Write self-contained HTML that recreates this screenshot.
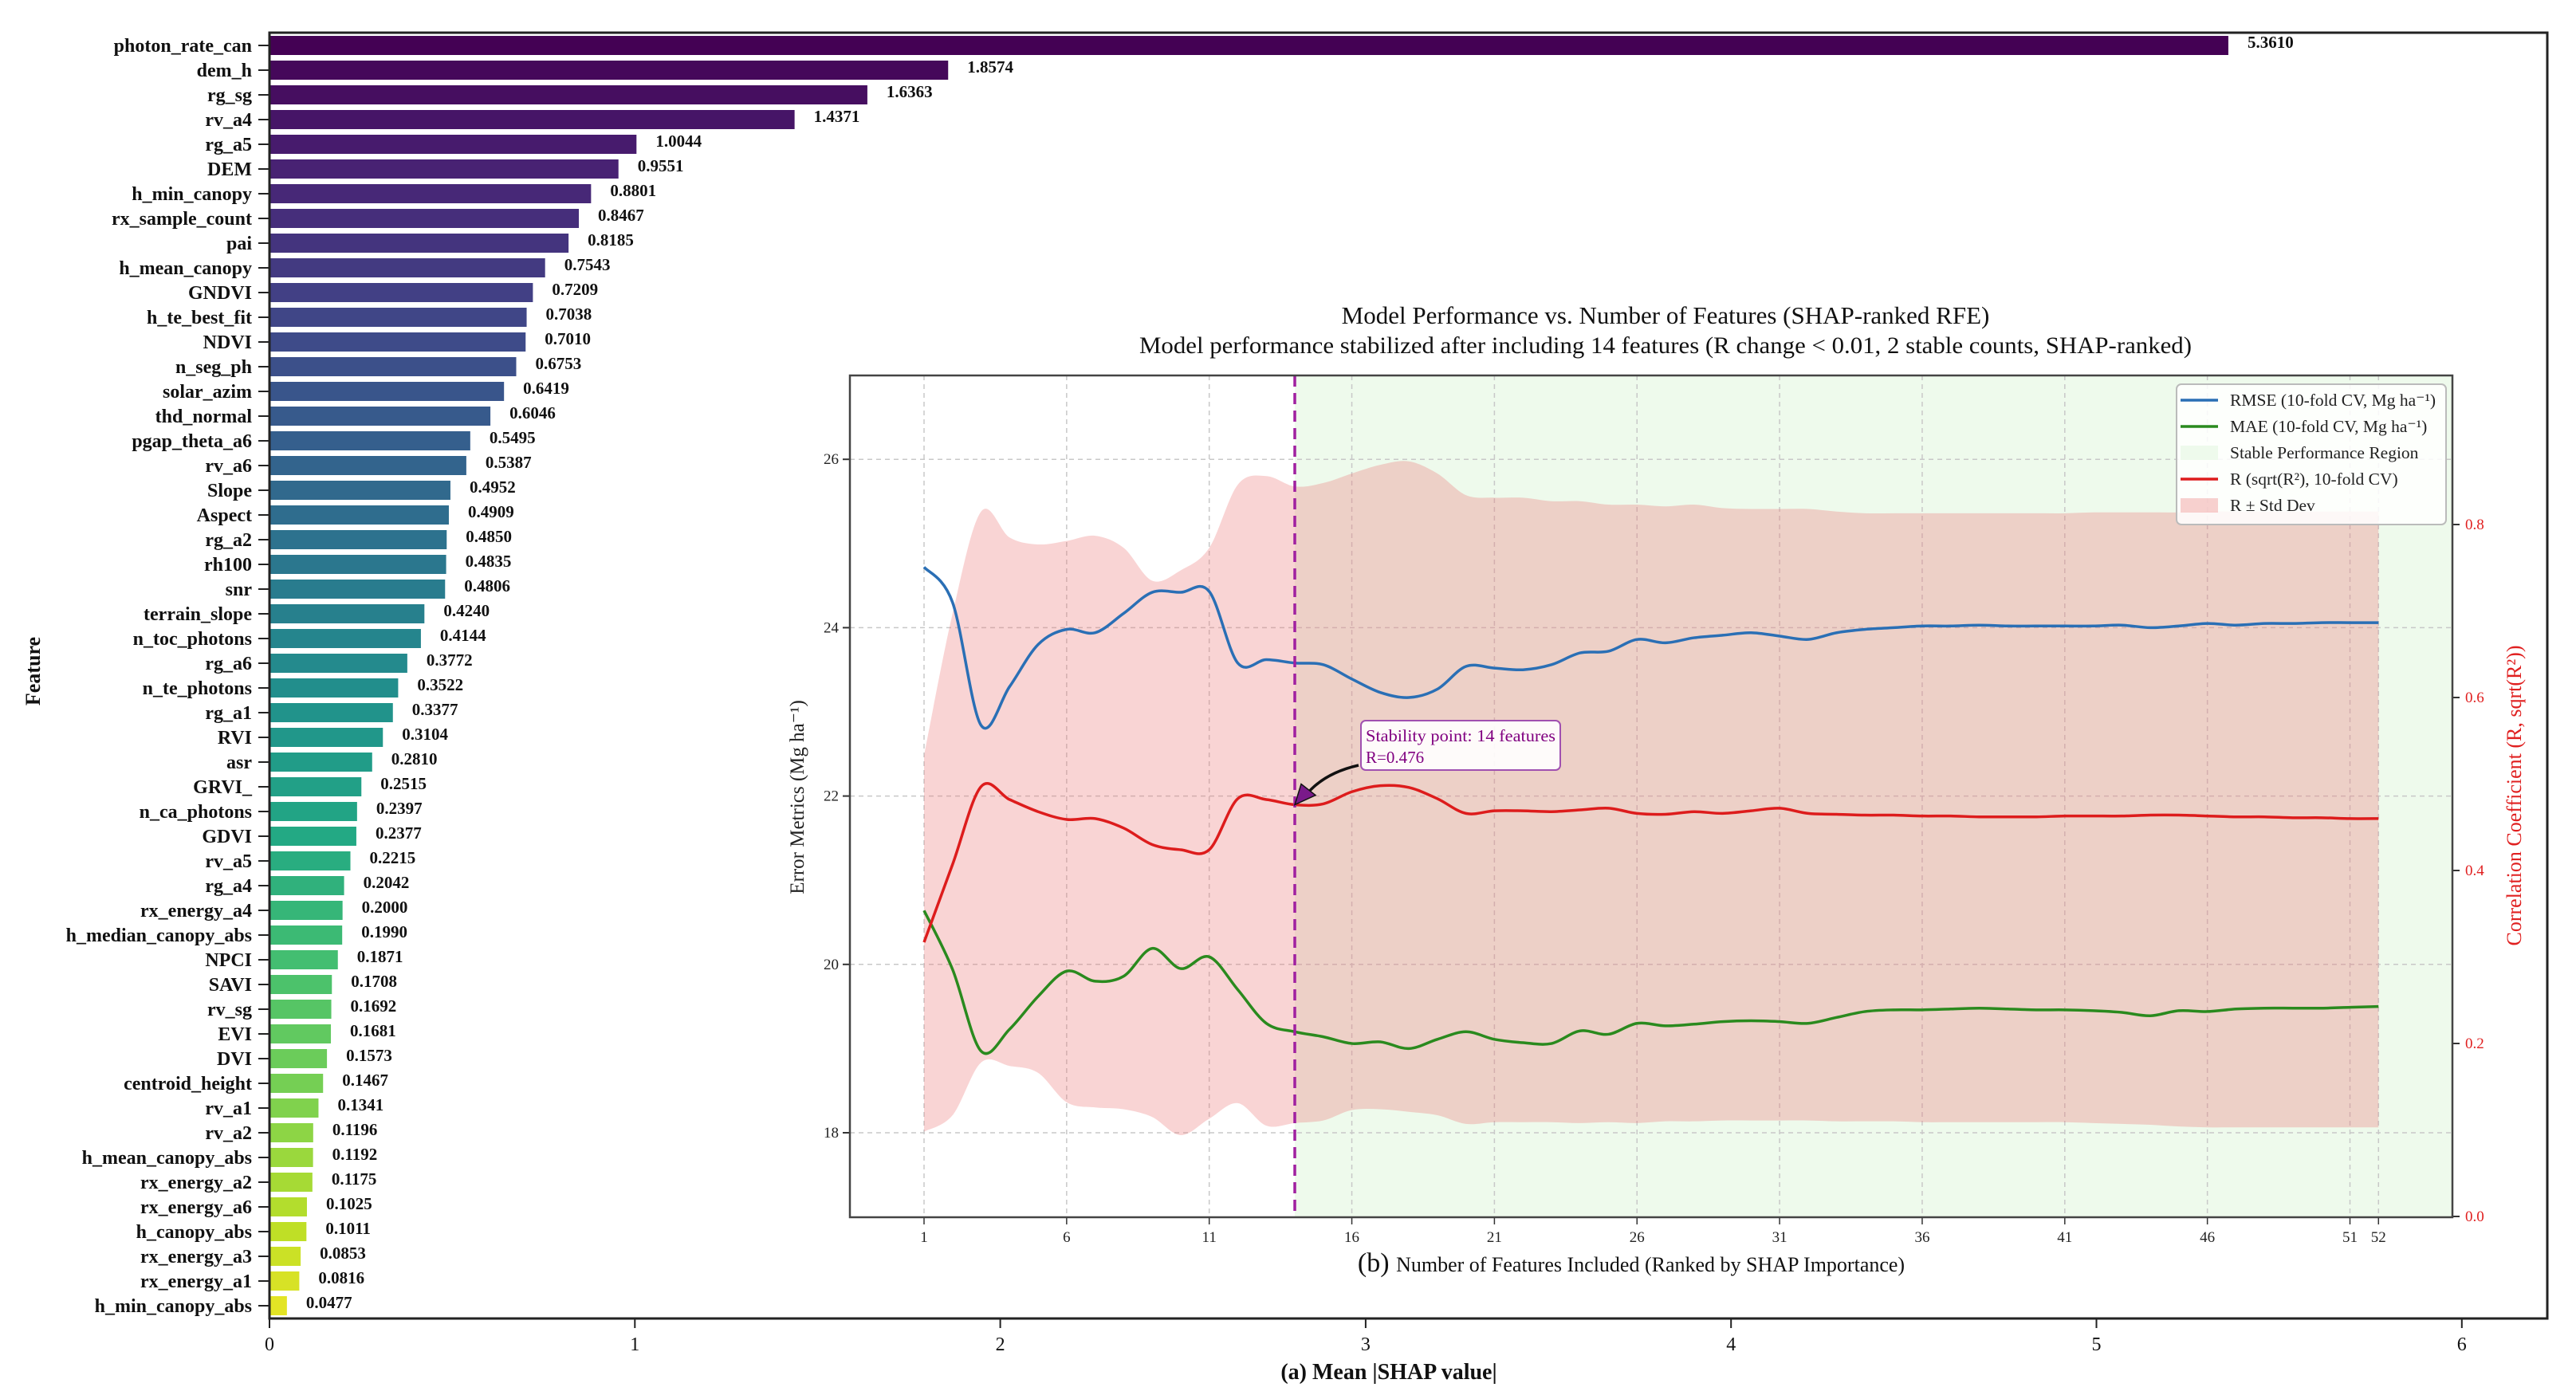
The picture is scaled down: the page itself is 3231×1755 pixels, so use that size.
<!DOCTYPE html>
<html><head><meta charset="utf-8"><style>
html,body{margin:0;padding:0;background:#fff}
svg{display:block}
text{font-family:"Liberation Serif",serif}
</style></head><body>
<svg id="c" width="3231" height="1755" viewBox="0 0 3231 1755" xmlns="http://www.w3.org/2000/svg">
<g id="left"></g>
<g id="inset"></g>
</svg>
<script>
const features = ["photon_rate_can","dem_h","rg_sg","rv_a4","rg_a5","DEM","h_min_canopy","rx_sample_count","pai","h_mean_canopy","GNDVI","h_te_best_fit","NDVI","n_seg_ph","solar_azim","thd_normal","pgap_theta_a6","rv_a6","Slope","Aspect","rg_a2","rh100","snr","terrain_slope","n_toc_photons","rg_a6","n_te_photons","rg_a1","RVI","asr","GRVI_","n_ca_photons","GDVI","rv_a5","rg_a4","rx_energy_a4","h_median_canopy_abs","NPCI","SAVI","rv_sg","EVI","DVI","centroid_height","rv_a1","rv_a2","h_mean_canopy_abs","rx_energy_a2","rx_energy_a6","h_canopy_abs","rx_energy_a3","rx_energy_a1","h_min_canopy_abs"];
const shapValues = [5.3610,1.8574,1.6363,1.4371,1.0044,0.9551,0.8801,0.8467,0.8185,0.7543,0.7209,0.7038,0.7010,0.6753,0.6419,0.6046,0.5495,0.5387,0.4952,0.4909,0.4850,0.4835,0.4806,0.4240,0.4144,0.3772,0.3522,0.3377,0.3104,0.2810,0.2515,0.2397,0.2377,0.2215,0.2042,0.2000,0.1990,0.1871,0.1708,0.1692,0.1681,0.1573,0.1467,0.1341,0.1196,0.1192,0.1175,0.1025,0.1011,0.0853,0.0816,0.0477];
const shapTicks = [0,1,2,3,4,5,6];

const nFeat = [1,2,3,4,5,6,7,8,9,10,11,12,13,14,15,16,17,18,19,20,21,22,23,24,25,26,27,28,29,30,31,32,33,34,35,36,37,38,39,40,41,42,43,44,45,46,47,48,49,50,51,52];
const rmse = [24.72,24.3,22.84,23.3,23.8,23.98,23.94,24.17,24.42,24.42,24.43,23.58,23.62,23.58,23.56,23.39,23.23,23.17,23.27,23.54,23.52,23.5,23.56,23.7,23.72,23.86,23.82,23.88,23.91,23.94,23.9,23.86,23.94,23.98,24.0,24.02,24.02,24.03,24.02,24.02,24.02,24.02,24.03,24.0,24.02,24.05,24.03,24.05,24.05,24.06,24.06,24.06];
const mae = [20.64,19.94,18.97,19.23,19.62,19.92,19.8,19.86,20.19,19.95,20.09,19.7,19.3,19.2,19.14,19.06,19.08,19.0,19.11,19.2,19.11,19.07,19.06,19.21,19.17,19.3,19.27,19.29,19.32,19.33,19.32,19.3,19.37,19.44,19.46,19.46,19.47,19.48,19.47,19.46,19.46,19.45,19.43,19.39,19.45,19.44,19.47,19.48,19.48,19.48,19.49,19.5];
const rVal = [0.317,0.407,0.497,0.482,0.468,0.459,0.46,0.449,0.43,0.424,0.424,0.483,0.482,0.476,0.477,0.491,0.498,0.496,0.483,0.466,0.469,0.469,0.468,0.47,0.472,0.466,0.465,0.468,0.466,0.469,0.472,0.466,0.465,0.464,0.464,0.463,0.463,0.462,0.462,0.462,0.463,0.463,0.463,0.464,0.464,0.463,0.462,0.462,0.461,0.461,0.46,0.46];
const rUpper = [0.533,0.697,0.815,0.785,0.777,0.781,0.787,0.773,0.735,0.747,0.773,0.846,0.856,0.844,0.848,0.859,0.869,0.873,0.859,0.834,0.831,0.831,0.827,0.827,0.823,0.823,0.821,0.823,0.819,0.818,0.818,0.818,0.815,0.813,0.813,0.813,0.813,0.813,0.813,0.813,0.813,0.814,0.814,0.814,0.814,0.815,0.815,0.815,0.815,0.815,0.815,0.815];
const rLower = [0.098,0.117,0.178,0.174,0.166,0.132,0.126,0.124,0.115,0.094,0.113,0.131,0.105,0.108,0.111,0.123,0.124,0.121,0.117,0.107,0.109,0.109,0.109,0.108,0.109,0.108,0.11,0.11,0.111,0.111,0.111,0.111,0.11,0.11,0.11,0.109,0.109,0.109,0.109,0.109,0.109,0.108,0.107,0.106,0.104,0.103,0.103,0.103,0.103,0.103,0.103,0.103];
const featTicks = [1,6,11,16,21,26,31,36,41,46,51,52];
const errTicks = [18,20,22,24,26];
const corrTicks = [0.0,0.2,0.4,0.6,0.8];
const stablePoint = 14;
const stableR = 0.476;

const NS="http://www.w3.org/2000/svg";
function mk(parent,tag,attrs,txt){const e=document.createElementNS(NS,tag);for(const k in attrs)e.setAttribute(k,attrs[k]);if(txt!==undefined)e.textContent=txt;parent.appendChild(e);return e;}

const vir=[[68,1,84],[72,36,117],[65,68,135],[53,95,141],[42,120,142],[33,145,140],[34,168,132],[68,191,112],[122,209,81],[189,223,38],[253,231,37]];
function viridis(t){const p=t*10,i=Math.min(9,Math.floor(p)),f=p-i;const a=vir[i],b=vir[i+1];return `rgb(${a.map((v,k)=>Math.round(v+(b[k]-v)*f)).join(',')})`;}

// ---------- left chart ----------
const L=document.getElementById('left');
const LX0=338, LUNIT=458.3, LTOP=41, LBOT=1654, LRIGHT=3195, ROW0=57, ROWSTEP=31.0, BARH=24;
const sx=v=>LX0+v*LUNIT;
const rowY=i=>ROW0+i*ROWSTEP;
features.forEach((f,i)=>{
  const y=rowY(i);
  const b=mk(L,'rect',{x:LX0,y:y-BARH/2,width:sx(shapValues[i])-LX0,height:BARH,fill:viridis(i/(features.length-1)*0.96)});
  
  
  const t=mk(L,'text',{x:sx(shapValues[i])+24,y:y+3,'font-size':21,'font-weight':'bold',fill:'#111'},shapValues[i].toFixed(4));
  
  
  const tl=mk(L,'text',{x:316,y:y+8,'font-size':24,'font-weight':'bold','text-anchor':'end',fill:'#111'},f);
  
  
  const tm=mk(L,'line',{x1:324,x2:LX0,y1:y,y2:y,stroke:'#222','stroke-width':2});
  
  
});
shapTicks.forEach(v=>{
  const x=sx(v);
  const tm=mk(L,'line',{x1:x,x2:x,y1:LBOT,y2:LBOT+12,stroke:'#222','stroke-width':2});
  
  
  const tl=mk(L,'text',{x:x,y:LBOT+40,'font-size':24,'text-anchor':'middle',fill:'#111'},String(v));
  
  
});
const fr=mk(L,'rect',{x:LX0,y:LTOP,width:LRIGHT-LX0,height:LBOT-LTOP,fill:'none',stroke:'#222','stroke-width':3});


const xt=mk(L,'text',{x:1742,y:1730,'font-size':28,'font-weight':'bold','text-anchor':'middle',fill:'#111'},'(a) Mean |SHAP value|');


const yt=mk(L,'text',{x:0,y:0,'font-size':26,'font-weight':'bold','text-anchor':'middle',fill:'#111',transform:'translate(50,842) rotate(-90)'},'Feature');



// ---------- inset ----------
const I=document.getElementById('inset');
const IX0=1066, IX1=3076, IY0=471, IY1=1527;
const fx=f=>1159+(f-1)*35.77;
const ey=v=>1421-(v-18)*105.6;
const cy=v=>1526-v*(868/0.8);
const bg=mk(I,'rect',{x:IX0,y:IY0,width:IX1-IX0,height:IY1-IY0,fill:'#fff'});


const green=mk(I,'rect',{x:fx(stablePoint),y:IY0,width:IX1-fx(stablePoint),height:IY1-IY0,fill:'#eefaec'});


featTicks.forEach(f=>{
  const g=mk(I,'line',{x1:fx(f),x2:fx(f),y1:IY0,y2:IY1,stroke:'#c8c8c8','stroke-width':1.5,'stroke-dasharray':'6,5'});
  
  
  const tm=mk(I,'line',{x1:fx(f),x2:fx(f),y1:IY1,y2:IY1+9,stroke:'#333','stroke-width':1.5});
  
  
  const tl=mk(I,'text',{x:fx(f),y:IY1+31,'font-size':19,'text-anchor':'middle',fill:'#222'},String(f));
  
  
});
errTicks.forEach(v=>{
  const g=mk(I,'line',{x1:IX0,x2:IX1,y1:ey(v),y2:ey(v),stroke:'#c8c8c8','stroke-width':1.5,'stroke-dasharray':'6,5'});
  
  
  const tm=mk(I,'line',{x1:IX0-9,x2:IX0,y1:ey(v),y2:ey(v),stroke:'#333','stroke-width':2});
  
  
  const tl=mk(I,'text',{x:IX0-14,y:ey(v)+6,'font-size':19,'text-anchor':'end',fill:'#222'},String(v));
  
  
});
corrTicks.forEach(v=>{
  const tm=mk(I,'line',{x1:IX1,x2:IX1+9,y1:cy(v),y2:cy(v),stroke:'#333','stroke-width':2});
  
  
  const tl=mk(I,'text',{x:IX1+16,y:cy(v)+6,'font-size':19,fill:'#e02020'},v.toFixed(1));
  
  
});
function smooth(pts){let d=`M${pts[0][0]},${pts[0][1]}`;for(let i=0;i<pts.length-1;i++){const p0=pts[Math.max(0,i-1)],p1=pts[i],p2=pts[i+1],p3=pts[Math.min(pts.length-1,i+2)];const c1=[p1[0]+(p2[0]-p0[0])/6,p1[1]+(p2[1]-p0[1])/6],c2=[p2[0]-(p3[0]-p1[0])/6,p2[1]-(p3[1]-p1[1])/6];d+=` C${c1[0]},${c1[1]} ${c2[0]},${c2[1]} ${p2[0]},${p2[1]}`;}return d;}
const up=nFeat.map((f,i)=>[fx(f),cy(rUpper[i])]);
const lo=nFeat.map((f,i)=>[fx(f),cy(rLower[i])]).reverse();
const bandD=smooth(up)+' L'+lo[0][0]+','+lo[0][1]+smooth(lo).replace(/^M[^C]*/,' ')+' Z';
const band=mk(I,'path',{d:bandD,fill:'rgba(236,120,120,0.32)',stroke:'none'});


const lines=[[rmse,ey,'#2a6fb5','rmse-line'],[mae,ey,'#2a8a1e','mae-line'],[rVal,cy,'#dd1c1c','r-line']];
lines.forEach(([arr,sc,col,nm])=>{
  const p=mk(I,'path',{d:smooth(nFeat.map((f,i)=>[fx(f),sc(arr[i])])),fill:'none',stroke:col,'stroke-width':3.5});
  
  
});
const vl=mk(I,'line',{x1:fx(stablePoint),x2:fx(stablePoint),y1:IY0,y2:IY1,stroke:'#a020a0','stroke-width':3.5,'stroke-dasharray':'14,8'});


const fr2=mk(I,'rect',{x:IX0,y:IY0,width:IX1-IX0,height:IY1-IY0,fill:'none',stroke:'#444','stroke-width':2.5});


const ax=fx(stablePoint), ay=cy(stableR);
const ar=mk(I,'path',{d:`M1704,960 Q1660,970 ${ax+14},${ay-12}`,fill:'none',stroke:'#111','stroke-width':3.5});


const ah=mk(I,'polygon',{points:`${ax},${ay} ${ax+8},${ay-26} ${ax+26},${ay-12}`,fill:'#7a1a8a',stroke:'#111','stroke-width':1.5});


const ab=mk(I,'rect',{x:1707,y:904,width:250,height:62,rx:6,fill:'rgba(255,255,255,0.9)',stroke:'#a050b0','stroke-width':2});


const at1=mk(I,'text',{x:1713,y:930,'font-size':21,fill:'#800080',textLength:238,lengthAdjust:'spacingAndGlyphs'},'Stability point: 14 features');


const at2=mk(I,'text',{x:1713,y:957,'font-size':21,fill:'#800080'},'R=0.476');


const lg=mk(I,'rect',{x:2730,y:482,width:338,height:176,rx:6,fill:'rgba(255,255,255,0.85)',stroke:'#bbb','stroke-width':2});


const legItems=[['line','#2a6fb5','RMSE (10-fold CV, Mg ha⁻¹)'],['line','#2a8a1e','MAE (10-fold CV, Mg ha⁻¹)'],['rect','#eefaec','Stable Performance Region'],['line','#dd1c1c','R (sqrt(R²), 10-fold CV)'],['rect','rgba(236,120,120,0.35)','R ± Std Dev']];
legItems.forEach((it,k)=>{
  const y=502+k*33;
  let h;
  if(it[0]==='line') h=mk(I,'line',{x1:2735,x2:2782,y1:y,y2:y,stroke:it[1],'stroke-width':3.5});
  else h=mk(I,'rect',{x:2735,y:y-9,width:47,height:18,fill:it[1]});
  
  
  const t=mk(I,'text',{x:2797,y:y+7,'font-size':21.5,fill:'#222'},it[2]);
  
  
});
const t1=mk(I,'text',{x:2089,y:406,'font-size':31,'text-anchor':'middle',fill:'#111'},'Model Performance vs. Number of Features (SHAP-ranked RFE)');


const t2=mk(I,'text',{x:2089,y:443,'font-size':30,'text-anchor':'middle',fill:'#111',textLength:1320,lengthAdjust:'spacingAndGlyphs'},'Model performance stabilized after including 14 features (R change < 0.01, 2 stable counts, SHAP-ranked)');


const xl=mk(I,'text',{x:2046,y:1595,'font-size':26,'text-anchor':'middle',fill:'#111'});


mk(xl,'tspan',{'font-size':34},'(b) ');
mk(xl,'tspan',{},'Number of Features Included (Ranked by SHAP Importance)');
const yl=mk(I,'text',{x:0,y:0,'font-size':25,'text-anchor':'middle',fill:'#222',transform:'translate(1008,1000) rotate(-90)'},'Error Metrics (Mg ha⁻¹)');


const yr=mk(I,'text',{x:0,y:0,'font-size':26,'text-anchor':'middle',fill:'#e02020',transform:'translate(3162,998) rotate(-90)'},'Correlation Coefficient (R, sqrt(R²))');


</script>
</body></html>
